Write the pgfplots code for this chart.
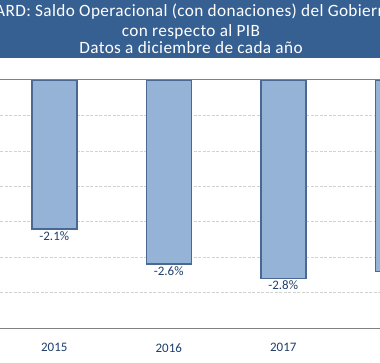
\documentclass[border=0pt]{standalone}
\usepackage{pgfplots}
\pgfplotsset{compat=1.18}
\usepackage{fontspec}
\setmainfont{Carlito}
\newfontfamily\titlefont[LetterSpace=2.2]{Carlito}
\definecolor{hdr}{RGB}{55,96,146}
\definecolor{barfill}{RGB}{149,179,215}
\definecolor{baredge}{RGB}{74,104,145}
\definecolor{lab}{RGB}{31,63,110}
\definecolor{gridc}{RGB}{210,210,210}
\begin{document}
\begin{tikzpicture}
\clip (0bp,0bp) rectangle (380bp,363bp);
\fill[white] (0bp,0bp) rectangle (380bp,363bp);
\fill[hdr] (0bp,304.7bp) rectangle (380bp,363bp);
\node[anchor=base, white, inner sep=0pt, font=\titlefont\fontsize{17.3}{19}\selectfont] at (191bp,346.3bp) {ARD: Saldo Operacional (con donaciones) del Gobiern};
\node[anchor=base, white, inner sep=0pt, font=\titlefont\fontsize{17.3}{19}\selectfont] at (191bp,326.3bp) {con respecto al PIB};
\node[anchor=base, white, inner sep=0pt, font=\titlefont\fontsize{17.3}{19}\selectfont] at (191bp,309bp) {Datos a diciembre de cada año};
\begin{axis}[
  at={(0bp,35bp)}, anchor=south west,
  scale only axis, width=380bp, height=248bp,
  ymin=-3.5, ymax=0, xmin=-0.474, xmax=2.845,
  ybar, bar width=45bp,
  xtick={0,1,2,3}, xticklabels={2015,2016,2017,},
  ytick={-3,-2.5,-2,-1.5,-1,-0.5}, yticklabels={},
  ymajorgrids, grid style={dash pattern=on 3bp off 1.5bp, color=gridc, line width=0.7bp},
  major tick length=0pt,
  axis line style={draw=none},
  clip=false,
  x tick label style={font=\fontsize{13}{15}\selectfont, color=lab, yshift=-12bp},
  point meta=explicit symbolic,
  nodes near coords,
  every node near coord/.append style={font=\fontsize{13}{15}\selectfont, color=lab, anchor=north, inner sep=2pt},
]
\addplot[fill=barfill, draw=baredge, line width=1.5bp] coordinates {
  (0,-2.1) [-2.1\%]
  (1,-2.6) [-2.6\%]
  (2,-2.8) [-2.8\%]
  (3,-2.7) []
};
\draw[color={rgb,255:red,128;green,128;blue,128}, line width=1bp] (rel axis cs:0,1) -- (rel axis cs:1,1);
\draw[color={rgb,255:red,128;green,128;blue,128}, line width=1bp] (rel axis cs:0,0) -- (rel axis cs:1,0);
\end{axis}
\end{tikzpicture}
\end{document}
